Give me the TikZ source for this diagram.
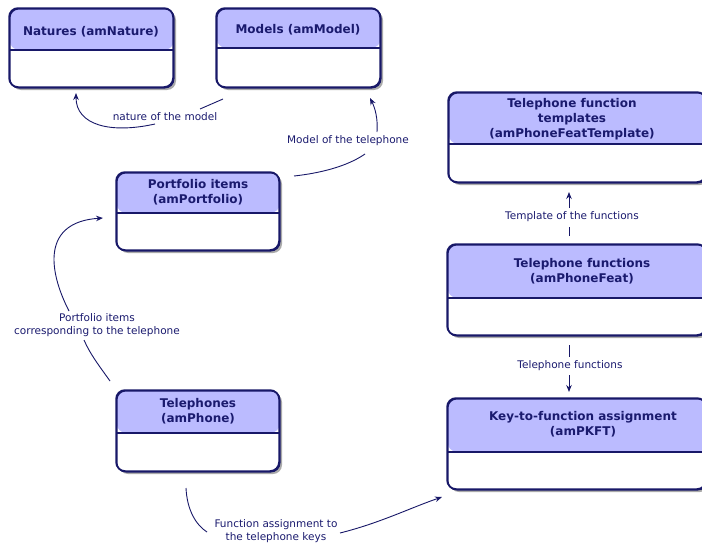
\documentclass[tikz,border=0pt]{standalone}
\usepackage{fontspec}
\setmainfont{DejaVu Sans}
\usetikzlibrary{arrows.meta}
\definecolor{navy}{RGB}{24,24,104}
\definecolor{hdr}{RGB}{187,187,255}
\definecolor{txt}{RGB}{26,26,110}
\definecolor{shd}{RGB}{170,170,170}
\tikzset{
 entbox/.style={draw=navy, line width=1.5pt, rounded corners=9pt, fill=white, inner sep=0pt, anchor=north west},
 shadowbox/.style={fill=shd, rounded corners=9pt},
 hdrtext/.style={font=\fontsize{12}{15}\selectfont\bfseries, text=txt, align=center, inner sep=0pt},
 lbl/.style={font=\fontsize{10.5}{13}\selectfont, text=txt, align=center, inner sep=0pt},
 conn/.style={draw=navy, line width=0.9pt},
 arr/.style={conn, -{Stealth[length=7pt,width=5.5pt]}},
}
% #1 name, #2 x1, #3 y1, #4 x2, #5 y2, #6 y of divider
\newcommand\entitybox[6]{%
 \fill[shadowbox] (#2+3,#3+3) rectangle (#4+3,#5+3);
 \node[entbox, minimum width={#4-#2}, minimum height={#5-#3},
   path picture={
     \fill[hdr] (path picture bounding box.north west) rectangle ([yshift={-(#6-#3)*1pt}]path picture bounding box.north east);
     \draw[navy, line width=1.5pt] ([yshift={-(#6-#3)*1pt}]path picture bounding box.north west) -- ([yshift={-(#6-#3)*1pt}]path picture bounding box.north east);
   }] (#1) at (#2,#3) {};
 \draw[navy, line width=1.5pt, rounded corners=9pt] (#2,#3) rectangle (#4,#5);
}
\begin{document}
\begin{tikzpicture}[x=1pt,y=-1pt]
\useasboundingbox (0,0) rectangle (702,546);
\entitybox{nat}{9}{8}{173}{87}{49}
\entitybox{mod}{216}{8}{380}{87}{47}
\entitybox{port}{116}{172}{279}{250}{212}
\entitybox{tmpl}{448}{92}{706}{182}{143}
\entitybox{feat}{447}{244}{706}{335}{297}
\entitybox{pkft}{447}{398}{706}{489}{451}
\entitybox{phone}{116}{390}{279}{471}{432}

\node[hdrtext] (nat-t) at (91,31.5) {Natures (amNature)};
\node[hdrtext] (mod-t) at (298,29.5) {Models (amModel)};
\node[hdrtext] (port-t) at (198,192.5) {Portfolio items\\(amPortfolio)};
\node[hdrtext] (tmpl-t) at (572,119) {Telephone function\\templates\\(amPhoneFeatTemplate)};
\node[hdrtext] (feat-t) at (582,271.5) {Telephone functions\\(amPhoneFeat)};
\node[hdrtext] (pkft-t) at (583,424.5) {Key-to-function assignment\\(amPKFT)};
\node[hdrtext] (phone-t) at (198,411) {Telephones\\(amPhone)};

\node[lbl] (l1) at (165,117) {nature of the model};
\node[lbl] (l2) at (348,141) {Model of the telephone};
\node[lbl] (l3) at (97,325) {Portfolio items\\corresponding to the telephone};
\node[lbl] (l4) at (276,531) {Function assignment to\\the telephone keys};
\node[lbl] (l5) at (572,217) {Template of the functions};
\node[lbl] (l6) at (570,366) {Telephone functions};

\coordinate (a1) at (223,99); \coordinate (b1) at (200,109);
\coordinate (c1) at (155,124); \coordinate (d1) at (76,93);
\draw[conn] (a1) -- (b1);
\draw[arr] (c1) .. controls (110,134) and (76,125) .. (d1);

\coordinate (a2) at (294,176); \coordinate (b2) at (365,154);
\coordinate (c2) at (377,132); \coordinate (d2) at (370,98);
\draw[conn] (a2) .. controls (330,172) and (352,163) .. (b2);
\draw[arr] (c2) .. controls (378,118) and (375,108) .. (d2);

\coordinate (a3) at (110,381); \coordinate (b3) at (84,340);
\coordinate (c3) at (69,311); \coordinate (d3) at (103,218);
\draw[conn] (a3) .. controls (100,367) and (90,354) .. (b3);
\draw[arr] (c3) .. controls (48,270) and (42,222) .. (d3);

\coordinate (a4) at (186,488); \coordinate (b4) at (207,532);
\coordinate (c4) at (340,533); \coordinate (d4) at (442,497);
\draw[conn] (a4) .. controls (187,510) and (196,525) .. (b4);
\draw[arr] (c4) .. controls (380,523) and (410,508) .. (d4);

\coordinate (a5) at (569,236); \coordinate (b5) at (569,227);
\coordinate (c5) at (569,208); \coordinate (d5) at (569,192);
\draw[conn] (a5) -- (b5);
\draw[arr] (c5) -- (d5);

\coordinate (a6) at (569,345); \coordinate (b6) at (569,357);
\coordinate (c6) at (569,375); \coordinate (d6) at (569,392);
\draw[conn] (a6) -- (b6);
\draw[arr] (c6) -- (d6);
\end{tikzpicture}
\end{document}
